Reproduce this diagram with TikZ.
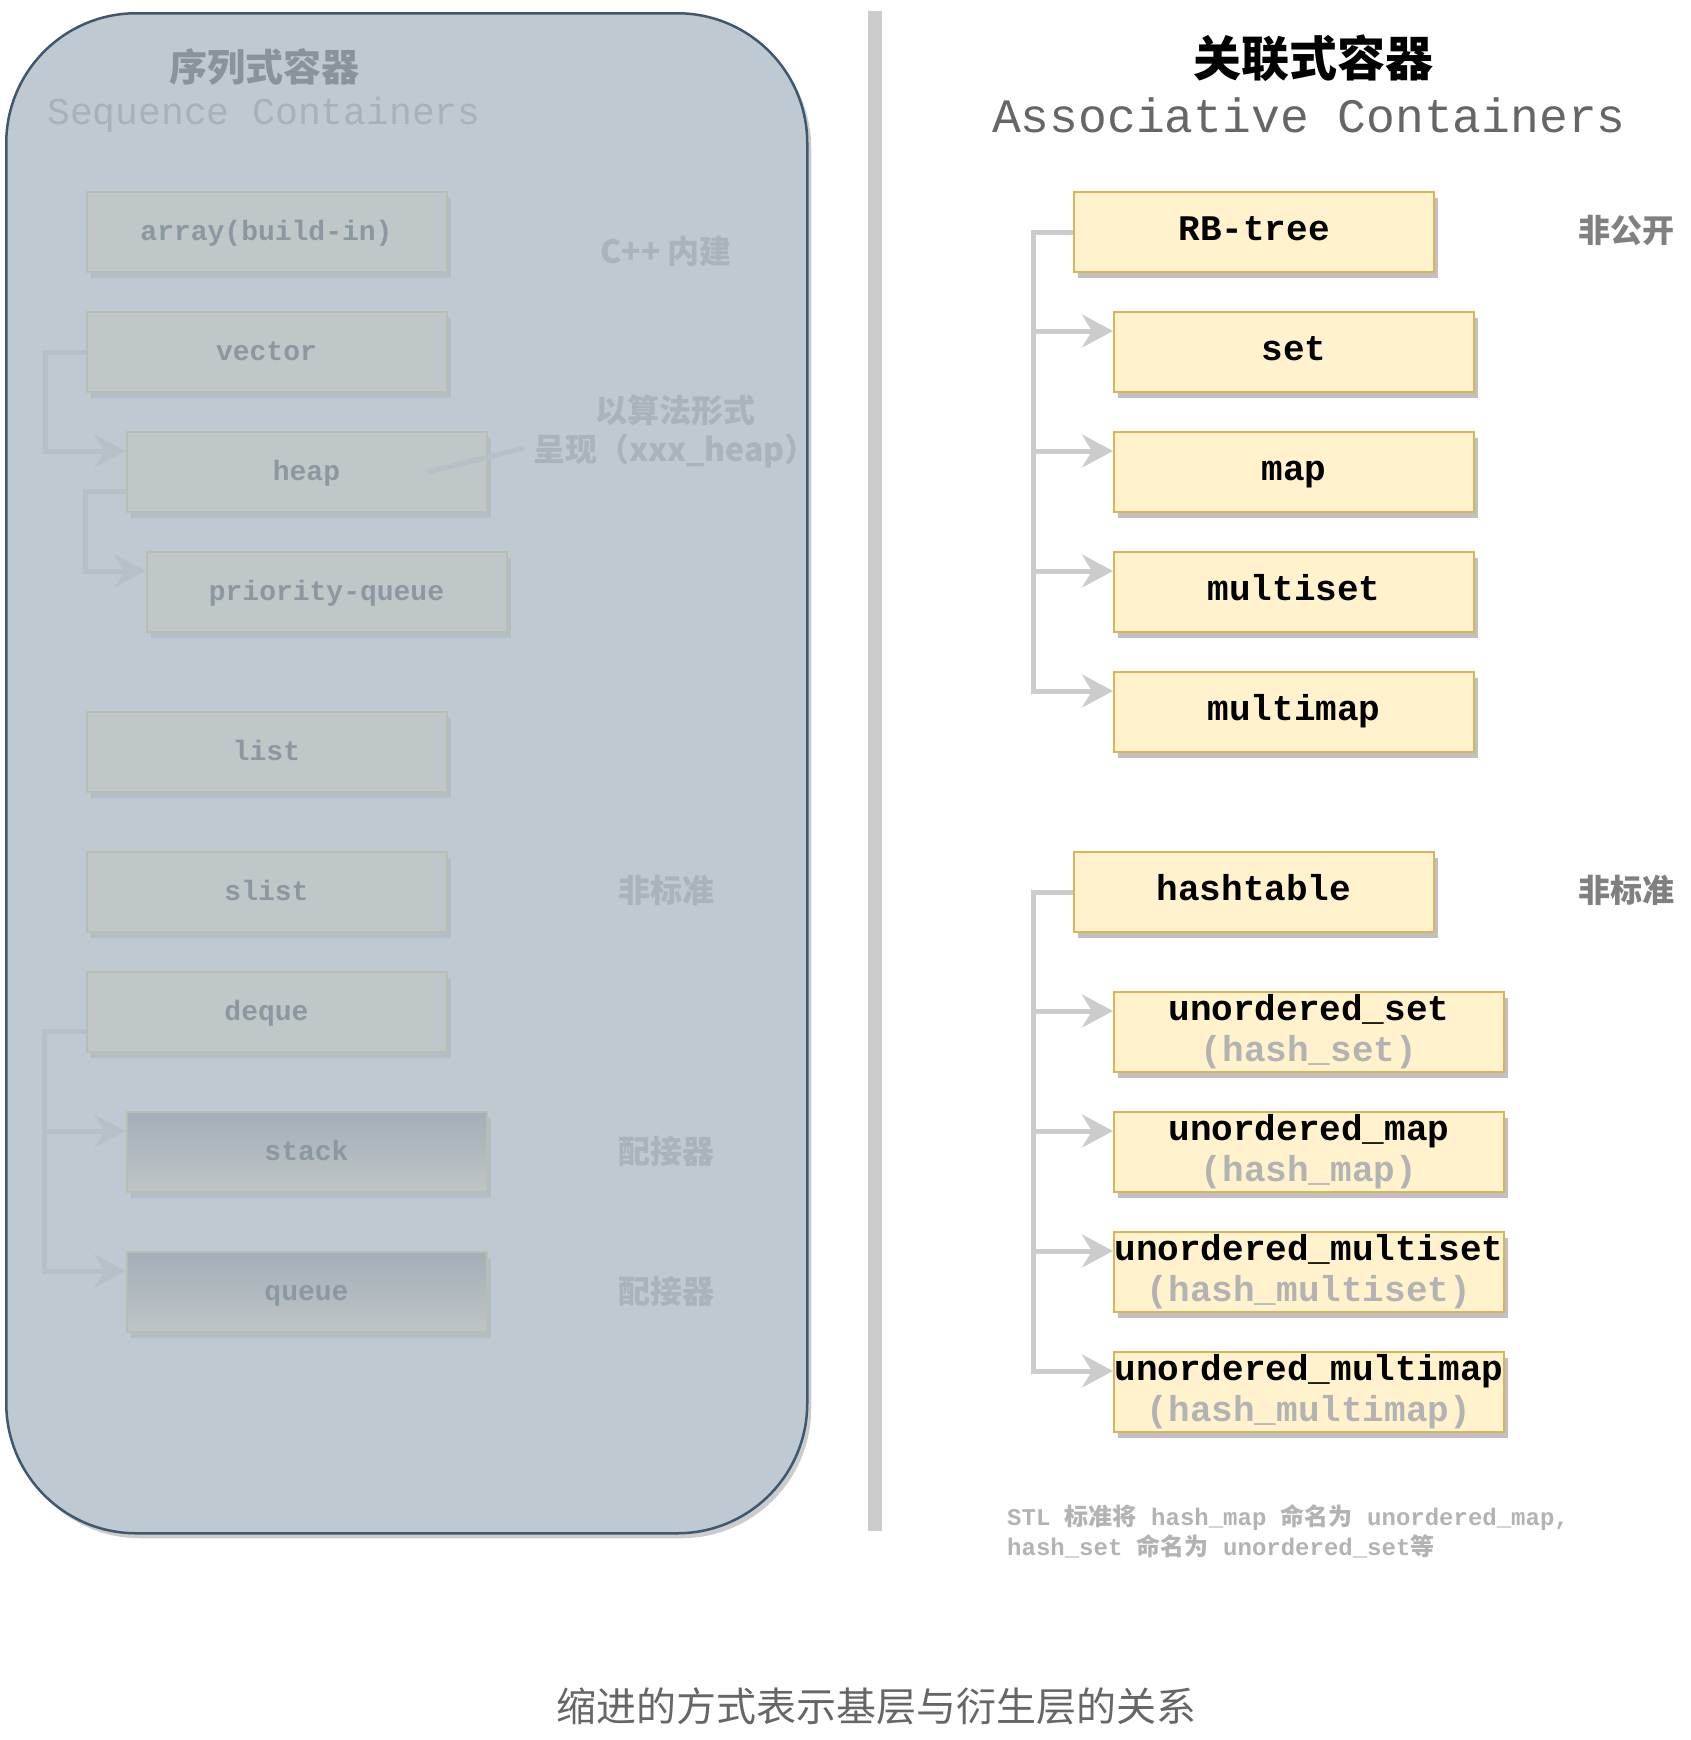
\documentclass[tikz,border=0pt]{standalone}
\usepackage{fontspec}
\setmonofont{Liberation Mono}
\newfontfamily\cjk{Noto Sans CJK SC}
\newcommand\zhtext[1]{{\cjk #1}}
\usetikzlibrary{arrows.meta,shadows}
\definecolor{seqfill}{HTML}{BFC9D1}
\definecolor{seqline}{HTML}{3E5870}
\definecolor{seqshd}{HTML}{CCCCCC}
\definecolor{fadefill}{HTML}{C0C7C9}
\definecolor{fadeline}{HTML}{B8BFB2}
\definecolor{fadeshd}{HTML}{B3BDC6}
\definecolor{fadetext}{HTML}{8C98A1}
\definecolor{fadeconn}{HTML}{B5C0C9}
\definecolor{fadelabel}{HTML}{A8B3BC}
\definecolor{fadetitle}{HTML}{8A939B}
\definecolor{fadesub}{HTML}{A7B1B9}
\definecolor{fadetop}{HTML}{A3AEB8}
\definecolor{fadebot}{HTML}{BEC5C6}
\definecolor{boxfill}{HTML}{FFF2CC}
\definecolor{boxline}{HTML}{D6B656}
\definecolor{boxshd}{HTML}{C0C0C0}
\definecolor{connclr}{HTML}{CCCCCC}
\definecolor{subtext}{HTML}{B3B3B3}
\definecolor{midgray}{HTML}{808080}
\definecolor{captgray}{HTML}{666666}

\begin{document}
\begin{tikzpicture}[x=1pt,y=-1pt]
\tikzstyle{every node}+=[inner sep=0pt]
\tikzstyle{basebox}=[rectangle, line width=2pt, minimum height=80pt, anchor=north west]
\tikzstyle{assoc}=[basebox, draw=boxline, fill=boxfill, minimum width=360pt, general shadow={fill=boxshd, shadow xshift=4pt, shadow yshift=-6pt}, font=\fontsize{36}{41}\selectfont\ttfamily\bfseries, text height=25pt, text depth=8pt]
\tikzstyle{hashbox}=[assoc, minimum width=390pt, align=center, text height=, text depth=]
\tikzstyle{seqitem}=[basebox, draw=fadeline, fill=fadefill, text=fadetext, minimum width=360pt, general shadow={fill=fadeshd, shadow xshift=4pt, shadow yshift=-6pt}, font=\fontsize{28}{32}\selectfont\ttfamily\bfseries, text height=22pt, text depth=5pt]
\tikzstyle{adaptor}=[seqitem, top color=fadetop, bottom color=fadebot]
\tikzstyle{link}=[draw=connclr, line width=5pt, -{Stealth[length=31pt,width=33pt,inset=10pt]}]
\tikzstyle{fadelink}=[link, draw=fadeconn]
\tikzstyle{sidenote}=[font=\fontsize{32}{39}\selectfont\cjk\bfseries, text=midgray]
\tikzstyle{fadenote}=[sidenote, text=fadelabel]
\useasboundingbox (0,0) rectangle (1690,1740);
\node (seq) [draw=seqline, fill=seqfill, line width=2.5pt, rounded corners=130pt, minimum width=801pt, minimum height=1520pt, anchor=north west, general shadow={fill=seqshd, shadow xshift=4pt, shadow yshift=-5pt}] at (5,12) {};
\draw [draw=connclr, line width=14pt] (875,11) -- (875,1531);
\node (seqzh) [font=\fontsize{38}{44}\selectfont\cjk\bfseries, text=fadetitle] at (264,67) {序列式容器};
\node (seqen) [font=\fontsize{38}{44}\selectfont\ttfamily, text=fadesub] at (264,115) {Sequence Containers};
\node (array) [seqitem] at (85.5,191) {array(build-in)};
\node (vector) [seqitem] at (85.5,311) {vector};
\node (heap) [seqitem] at (125.5,431) {heap};
\node (pq) [seqitem] at (145.5,551) {priority-queue};
\node (list) [seqitem] at (85.5,711) {list};
\node (slist) [seqitem] at (85.5,851) {slist};
\node (deque) [seqitem] at (85.5,971) {deque};
\node (stack) [adaptor] at (125.5,1111) {stack};
\node (queue) [adaptor] at (125.5,1251) {queue};
\node (builtin) [fadenote] at (666,251) {C++ 内建};
\node (heaplbl) [fadenote, align=center] at (675,431) {以算法形式\\呈现（xxx\_heap）};
\node (nonstd) [fadenote] at (666,890) {非标准};
\node (adapt1) [fadenote] at (666,1151) {配接器};
\node (adapt2) [fadenote] at (666,1291) {配接器};
\coordinate (heaptip) at (524,448);
\draw [fadelink] (vector.west) -- ++(-40,0) |- ([yshift=-20pt]heap.north west);
\draw [fadelink] ([yshift=-60pt]heap.north west) -- ++(-40,0) |- ([yshift=-20pt]pq.north west);
\foreach \c in {stack,queue}
  \draw [fadelink] ([yshift=-60pt]deque.north west) -- ++(-41,0) |- ([yshift=-20pt]\c.north west);
\draw [draw=fadeconn, line width=5pt] (heaptip) -- ([xshift=-60pt]heap.east);
\node (asszh) [font=\fontsize{48}{56}\selectfont\cjk\bfseries] at (1313,58) {关联式容器};
\node (assen) [font=\fontsize{48}{56}\selectfont\ttfamily, text=captgray] at (1309,115) {Associative Containers};
\node (rbtree) [assoc] at (1073,191) {RB-tree};
\node (set) [assoc] at (1113,311) {set};
\node (map) [assoc] at (1113,431) {map};
\node (multiset) [assoc] at (1113,551) {multiset};
\node (multimap) [assoc] at (1113,671) {multimap};
\node (hashtable) [assoc] at (1073,851) {hashtable};
\node (uset) [hashbox] at (1113,991) {unordered\_set\\\textcolor{subtext}{(hash\_set)}};
\node (umap) [hashbox] at (1113,1111) {unordered\_map\\\textcolor{subtext}{(hash\_map)}};
\node (umset) [hashbox] at (1113,1231) {unordered\_multiset\\\textcolor{subtext}{(hash\_multiset)}};
\node (ummap) [hashbox] at (1113,1351) {unordered\_multimap\\\textcolor{subtext}{(hash\_multimap)}};
\node (private) [sidenote] at (1626,230) {非公开};
\node (nonstd2) [sidenote] at (1626,890) {非标准};
\foreach \c in {set,map,multiset,multimap}
  \draw [link] (rbtree.west) -- ++(-40,0) |- ([yshift=-20pt]\c.north west);
\foreach \c in {uset,umap,umset,ummap}
  \draw [link] (hashtable.west) -- ++(-40,0) |- ([yshift=-20pt]\c.north west);
\node (hashnote) [anchor=west, align=left, font=\fontsize{24}{30}\selectfont\bfseries, text=subtext] at (1007,1531) {\texttt{STL }\zhtext{标准将}\texttt{ hash\_map }\zhtext{命名为}\texttt{ unordered\_map,}\\\texttt{hash\_set }\zhtext{命名为}\texttt{ unordered\_set}\zhtext{等}};
\node (caption) [font=\fontsize{40}{48}\selectfont\cjk, text=captgray] at (876,1706) {缩进的方式表示基层与衍生层的关系};
\end{tikzpicture}
\end{document}
